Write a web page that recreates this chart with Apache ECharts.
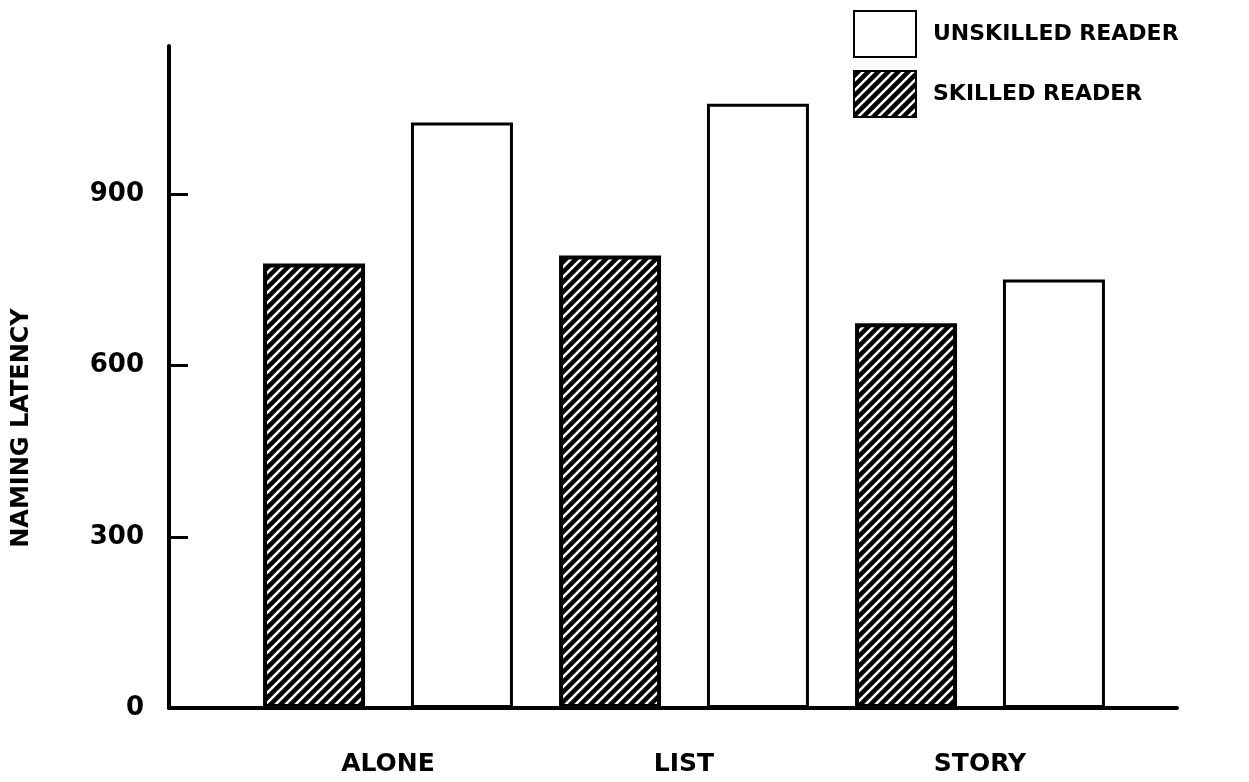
<!DOCTYPE html>
<html>
<head>
<meta charset="utf-8">
<script src="https://cdn.jsdelivr.net/npm/echarts@6/dist/echarts.min.js"></script>
<style>
  html, body { margin: 0; padding: 0; background: #fff; }
  #chart { width: 1249px; height: 782px; }
</style>
</head>
<body>
<div id="chart"></div>
<script>
const categories = ['ALONE', 'LIST', 'STORY']
const skilled = [779, 793, 674]
const unskilled = [1026, 1059, 751]
const yTicks = [0, 300, 600, 900]
const yMax = 1160

const font = 'DejaVu Sans'

// diagonal hatch used for the skilled bars
const makeHatch = () => {
  const s = 10
  const c = document.createElement('canvas')
  c.width = s
  c.height = s
  const ctx = c.getContext('2d')
  ctx.fillStyle = '#000'
  ctx.fillRect(0, 0, s, s)
  ctx.strokeStyle = '#fff'
  ctx.lineWidth = 2.6
  ctx.beginPath()
  ctx.moveTo(-s / 2, s / 2); ctx.lineTo(s / 2, -s / 2)
  ctx.moveTo(0, s); ctx.lineTo(s, 0)
  ctx.moveTo(s / 2, s * 1.5); ctx.lineTo(s * 1.5, s / 2)
  ctx.stroke()
  return c
}

const chart = echarts.init(document.getElementById('chart'))

const option = {
  animation: false,
  backgroundColor: '#fff',
  legend: {
    orient: 'vertical',
    left: 853,
    top: 10,
    padding: 0,
    itemWidth: 62,
    itemHeight: 46,
    itemGap: 12,
    icon: 'rect',
    data: ['UNSKILLED READER', 'SKILLED READER'],
    textStyle: {
      fontFamily: font,
      fontWeight: 'bold',
      fontSize: 22,
      color: '#000',
      padding: [0, 0, 0, 12]
    }
  },
  grid: [
    { left: 169, right: 72, top: 46, bottom: 74 },
    { left: 240, right: 121, top: 46, bottom: 74 }
  ],
  xAxis: [
    {
      gridIndex: 0,
      type: 'value',
      min: 0,
      max: 1,
      axisLine: { show: true, lineStyle: { color: '#000', width: 4 } },
      axisTick: { show: false },
      axisLabel: { show: false },
      splitLine: { show: false }
    },
    {
      gridIndex: 1,
      type: 'category',
      data: categories,
      axisLine: { show: false },
      axisTick: { show: false },
      axisLabel: {
        margin: 44,
        fontFamily: font,
        fontWeight: 'bold',
        fontSize: 25,
        color: '#000'
      }
    }
  ],
  yAxis: [
    {
      gridIndex: 0,
      type: 'value',
      min: 0,
      max: yMax,
      name: 'NAMING LATENCY',
      nameLocation: 'middle',
      nameGap: 135,
      nameTextStyle: {
        fontFamily: font,
        fontWeight: 'bold',
        fontSize: 24,
        color: '#000',
        padding: [0, 102, 0, 0]
      },
      axisLine: { show: true, lineStyle: { color: '#000', width: 4 } },
      axisTick: {
        show: true,
        inside: true,
        length: 19,
        customValues: yTicks,
        lineStyle: { color: '#000', width: 3 }
      },
      axisLabel: {
        margin: 25,
        customValues: yTicks,
        fontFamily: font,
        fontWeight: 'bold',
        fontSize: 26,
        color: '#000'
      },
      splitLine: { show: false }
    },
    {
      gridIndex: 1,
      type: 'value',
      min: 0,
      max: yMax,
      show: false
    }
  ],
  series: [
    {
      name: 'SKILLED READER',
      type: 'bar',
      xAxisIndex: 1,
      yAxisIndex: 1,
      data: skilled,
      barWidth: 102,
      barGap: '45%',
      itemStyle: {
        color: { image: makeHatch(), repeat: 'repeat' },
        borderColor: '#000',
        borderWidth: 4
      }
    },
    {
      name: 'UNSKILLED READER',
      type: 'bar',
      xAxisIndex: 1,
      yAxisIndex: 1,
      data: unskilled,
      barWidth: 102,
      barGap: '45%',
      itemStyle: {
        color: '#fff',
        borderColor: '#000',
        borderWidth: 3
      }
    }
  ]
}

chart.setOption(option)
</script>
</body>
</html>
